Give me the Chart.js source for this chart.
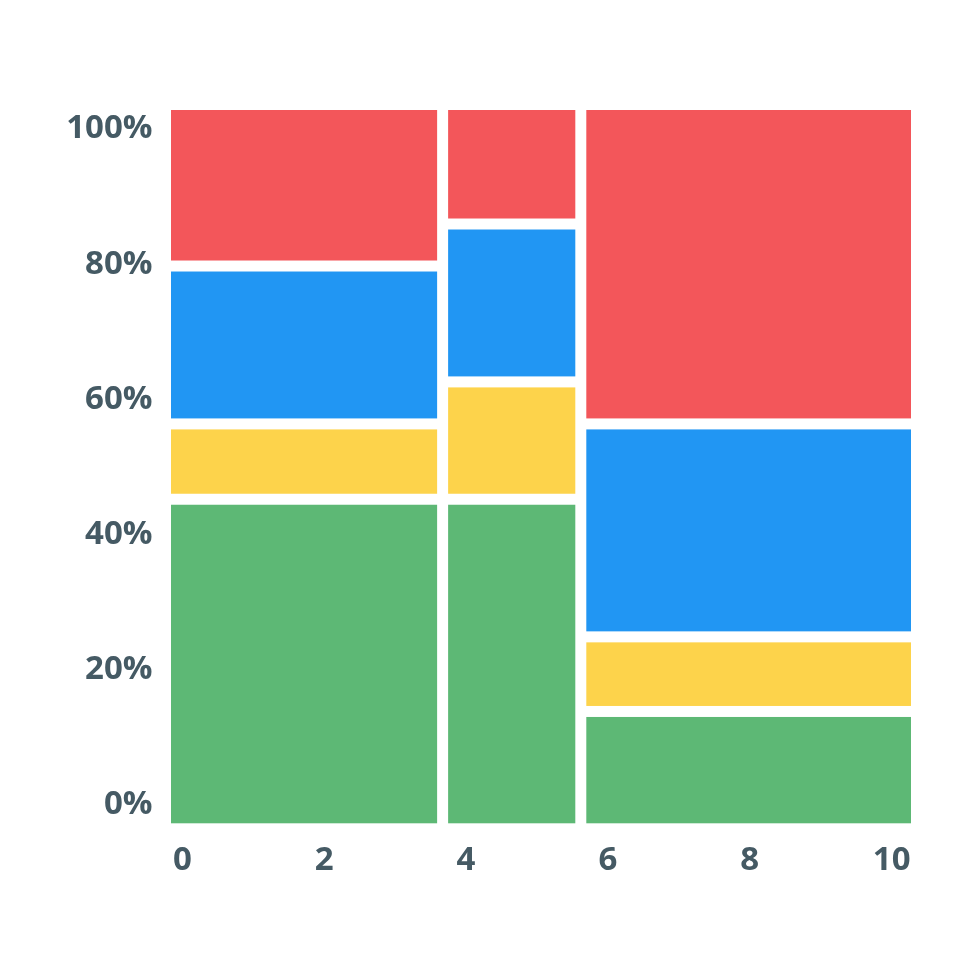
<!DOCTYPE html>
<html>
<head>
<meta charset="utf-8">
<script src="https://cdn.jsdelivr.net/npm/chart.js@4"></script>
<style>
  body { margin: 0; background: #fff; }
  #wrap { width: 980px; height: 980px; }
</style>
</head>
<body>
<div id="wrap"><canvas id="mosaic-chart"></canvas></div>
<script>
// tick labels
const xTicks = [0, 2, 4, 6, 8, 10];
const yTicks = [0, 20, 40, 60, 80, 100];

// column widths, share of the whole width (%)
const columnWidths = [36.9, 18.4, 44.7];

// segment heights per column, bottom to top (%)
const green  = [45.5, 45.5, 16.2];
const yellow = [10.4, 16.2, 10.3];
const blue   = [21.8, 21.8, 29.4];
const red    = [22.3, 16.5, 44.1];

const seriesNames  = ['Green', 'Yellow', 'Blue', 'Red'];
const seriesValues = [green, yellow, blue, red];
const seriesColors = ['#5DB875', '#FDD34B', '#2196F3', '#F3565A'];

const GAP = 11;
const labelFont = { family: '"Open Sans", sans-serif', size: 33, weight: 'bold' };
const labelColor = '#455A64';

// draws the mosaic cells from the data through the hidden mx / my scales
const mosaicPlugin = {
  id: 'mosaic',
  beforeDatasetsDraw(chart) {
    const ctx = chart.ctx;
    const mx = chart.scales.mx;
    const my = chart.scales.my;
    let left = 0;
    columnWidths.forEach(function(w, col) {
      let bottom = 0;
      chart.data.datasets.forEach(function(ds) {
        const h = ds.values[col];
        const x0 = mx.getPixelForValue(left) + GAP / 2;
        const x1 = mx.getPixelForValue(left + w) - GAP / 2;
        const y0 = my.getPixelForValue(bottom + h) + GAP / 2;
        const y1 = my.getPixelForValue(bottom) - GAP / 2;
        ctx.fillStyle = ds.backgroundColor;
        ctx.fillRect(x0, y0, x1 - x0, y1 - y0);
        bottom += h;
      });
      left += w;
    });
  }
};

new Chart(document.getElementById('mosaic-chart'), {
  type: 'scatter',
  data: {
    datasets: seriesNames.map(function(name, i) {
      return {
        label: name,
        data: [],
        values: seriesValues[i],
        backgroundColor: seriesColors[i]
      };
    })
  },
  options: {
    responsive: true,
    maintainAspectRatio: false,
    animation: false,
    layout: { padding: { top: 104.5, right: 63.5, left: 0, bottom: 91.2 } },
    plugins: {
      legend: { display: false },
      tooltip: { enabled: false }
    },
    scales: {
      x: {
        type: 'linear',
        position: 'bottom',
        min: -0.237,
        max: 10.35,
        grid: { display: false, drawTicks: false },
        border: { display: false },
        afterBuildTicks: function(axis) { axis.ticks = xTicks.map(function(v) { return { value: v }; }); },
        afterFit: function(axis) { axis.height = 60; },
        ticks: { padding: 12, font: labelFont, color: labelColor, maxRotation: 0 }
      },
      y: {
        type: 'linear',
        position: 'left',
        min: -3.52,
        max: 103.63,
        grid: { display: false, drawTicks: false },
        border: { display: false },
        afterBuildTicks: function(axis) { axis.ticks = yTicks.map(function(v) { return { value: v }; }); },
        afterFit: function(axis) { axis.width = 165.5; },
        ticks: {
          padding: 13,
          font: labelFont,
          color: labelColor,
          callback: function(v) { return v + '%'; }
        }
      },
      mx: { type: 'linear', position: 'bottom', min: 0, max: 100, display: false },
      my: { type: 'linear', position: 'left', min: 0, max: 100, display: false }
    }
  },
  plugins: [mosaicPlugin]
});
</script>
</body>
</html>
